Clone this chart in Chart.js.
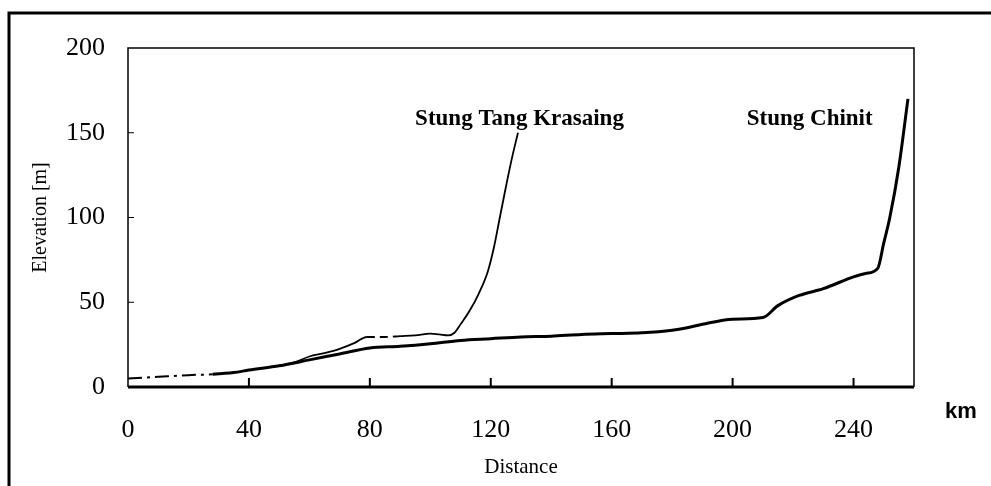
<!DOCTYPE html>
<html>
<head>
<meta charset="utf-8">
<script src="https://cdn.jsdelivr.net/npm/chart.js@4"></script>
<style>
  html, body { margin: 0; padding: 0; background: #fff; }
  #wrap { width: 991px; height: 486px; }
</style>
</head>
<body>
<div id="wrap"><canvas id="profile" width="991" height="486"></canvas></div>
<script>
// river long profiles
const chinitKm   = [0, 10, 20, 28, 35, 40, 50, 60, 70, 80, 90, 100, 110, 120, 130, 140, 150, 160, 170, 180, 185, 190, 200, 210, 215, 222, 230, 240, 244, 248, 250, 252, 255, 258];
const chinitElev = [5, 6, 7, 7.5, 8.5, 10, 12.5, 16, 19.5, 23, 24, 25.5, 27.5, 28.5, 29.5, 30, 31, 31.5, 32, 33.5, 35, 37, 40, 41, 48, 54, 58, 65, 67, 70, 85, 100, 130, 170];
const tangKm     = [50, 55, 60, 65, 70, 75, 79, 85, 90, 95, 100, 103, 106, 108, 110, 113, 116, 119, 121, 123, 125, 127, 129];
const tangElev   = [12.5, 14.5, 18, 20, 22.5, 26, 29.5, 29.5, 30, 30.5, 31.5, 31, 30.5, 32, 37, 45, 55, 68, 82, 100, 118, 135, 150];
const xTickValues = [0, 40, 80, 120, 160, 200, 240];
const yTickValues = [0, 50, 100, 150, 200];
const seriesNames = ['Stung Chinit', 'Stung Tang Krasaing'];

const serif = "'Liberation Serif', 'Times New Roman', serif";

function pairs(xs, ys) {
  return xs.map((x, i) => ({ x: x, y: ys[i] }));
}

// frame, box, inward ticks, labels on the curves
const decor = {
  id: 'decor',
  beforeDraw(chart) {
    const c = chart.ctx;
    c.save();
    c.fillStyle = '#fff';
    c.fillRect(0, 0, chart.width, chart.height);
    c.strokeStyle = '#000';
    c.lineWidth = 3;
    c.beginPath();
    c.moveTo(9, 486);
    c.lineTo(9, 13);
    c.lineTo(991, 13);
    c.stroke();
    c.restore();
  },
  afterDatasetsDraw(chart) {
    const c = chart.ctx;
    const a = chart.chartArea;
    const xs = chart.scales.x, ys = chart.scales.y;
    c.save();
    c.strokeStyle = '#000';
    c.lineWidth = 1.5;
    c.beginPath();
    c.moveTo(a.left, a.bottom);
    c.lineTo(a.left, a.top);
    c.lineTo(a.right, a.top);
    c.lineTo(a.right, a.bottom);
    c.stroke();
    c.lineWidth = 3;
    c.beginPath();
    c.moveTo(a.left, a.bottom);
    c.lineTo(a.right, a.bottom);
    c.stroke();

    c.lineWidth = 2;
    xTickValues.slice(1).forEach(v => {
      const px = xs.getPixelForValue(v);
      c.beginPath();
      c.moveTo(px, a.bottom);
      c.lineTo(px, a.bottom - 9);
      c.stroke();
    });
    c.lineWidth = 1;
    yTickValues.slice(1, -1).forEach(v => {
      const py = ys.getPixelForValue(v);
      c.beginPath();
      c.moveTo(a.left, py);
      c.lineTo(a.left + 6, py);
      c.stroke();
    });

    c.fillStyle = '#000';
    c.font = 'bold 23px ' + serif;
    c.textAlign = 'center';
    c.textBaseline = 'middle';
    c.fillText(seriesNames[1], xs.getPixelForValue(129.5), ys.getPixelForValue(158));
    c.fillText(seriesNames[0], xs.getPixelForValue(225.5), ys.getPixelForValue(158));

    c.font = "bold 22px 'Liberation Sans', Arial, sans-serif";
    c.fillText('km', a.right + 47, a.bottom + 25);
    c.restore();
  }
};

new Chart(document.getElementById('profile'), {
  type: 'line',
  data: {
    datasets: [
      {
        label: seriesNames[0],
        data: pairs(chinitKm, chinitElev),
        borderColor: '#000',
        borderWidth: 3,
        pointRadius: 0,
        cubicInterpolationMode: 'monotone',
        segment: {
          borderDash: ctx => ctx.p0.parsed.x < 28 ? [14, 5, 3, 5] : undefined,
          borderWidth: ctx => ctx.p0.parsed.x < 28 ? 2 : 3
        }
      },
      {
        label: seriesNames[1],
        data: pairs(tangKm, tangElev),
        borderColor: '#000',
        borderWidth: 1.8,
        pointRadius: 0,
        cubicInterpolationMode: 'monotone',
        segment: {
          borderDash: ctx => (ctx.p0.parsed.x >= 79 && ctx.p0.parsed.x < 90) ? [8, 5] : undefined
        }
      }
    ]
  },
  options: {
    responsive: false,
    animation: false,
    layout: { padding: { left: 0, top: 48, right: 77, bottom: 0 } },
    plugins: { legend: { display: false }, tooltip: { enabled: false } },
    scales: {
      x: {
        type: 'linear',
        min: 0,
        max: 260,
        afterBuildTicks: s => { s.ticks = xTickValues.map(v => ({ value: v })); },
        afterFit: s => { s.height = 99; },
        grid: { display: false, drawTicks: false },
        border: { display: false },
        ticks: { color: '#000', padding: 28, maxRotation: 0, font: { family: serif, size: 26 } },
        title: {
          display: true,
          text: 'Distance',
          color: '#000',
          font: { family: serif, size: 21 },
          padding: { top: 0, bottom: 6 }
        }
      },
      y: {
        min: 0,
        max: 200,
        afterBuildTicks: s => { s.ticks = yTickValues.map(v => ({ value: v })); },
        afterFit: s => { s.width = 128; },
        grid: { display: false, drawTicks: false },
        border: { display: false },
        ticks: { color: '#000', padding: 23, font: { family: serif, size: 26 } },
        title: {
          display: true,
          text: 'Elevation [m]',
          color: '#000',
          font: { family: serif, size: 20 },
          padding: { top: 29, bottom: 0 }
        }
      }
    }
  },
  plugins: [decor]
});
</script>
</body>
</html>
